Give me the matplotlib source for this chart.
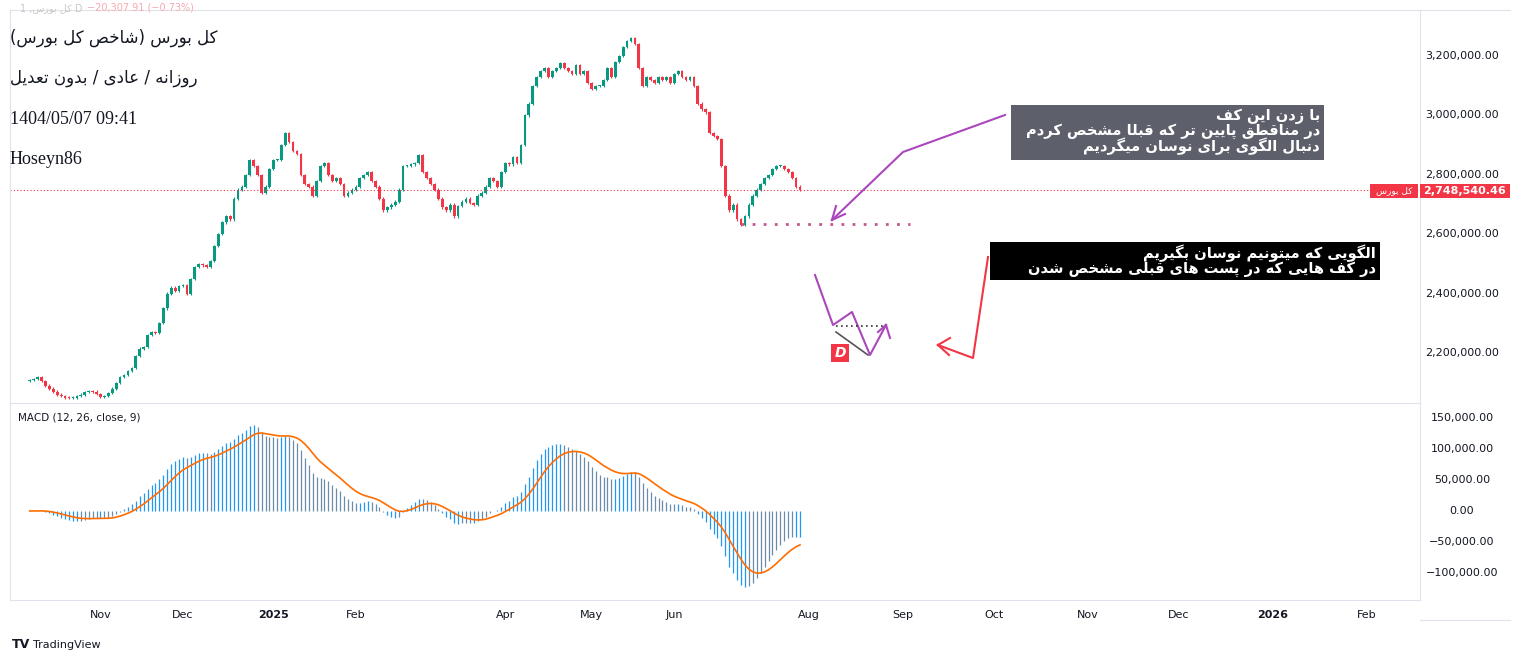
import unicodedata
import numpy as np
import pandas as pd
import matplotlib
matplotlib.use("Agg")
import matplotlib.pyplot as plt
from matplotlib.patches import Rectangle

# ---------------- data ----------------
closes_k = [2110,2112,2118,2105,2090,2080,2070,2060,2055,2050,2048,2050,2055,2060,2068,2072,2070,2062,2052,2055,
            2065,2080,2100,2120,2125,2140,2150,2190,2215,2220,2260,2270,2268,2300,2350,2400,2420,2410,2425,2430,2400,2450,2490,2500,2495,2490,2510,2560,2600,2640,2660,2650,2720,2750,2760,2800,2850,2830,
            2800,2740,2760,2820,2850,2850,2900,2940,2910,
            2880,2870,2800,2770,2760,2730,2780,2830,2840,2800,2780,2790,2770,2730,2740,2750,2760,2790,2800,2810,2780,2760,
            2720,2680,2690,2700,2710,2750,2830,2830,2835,2840,2865,2810,2790,2770,2750,
            2720,2690,2680,2700,2660,2695,2710,2720,2705,2700,2730,2740,
            2760,2790,2780,2760,2810,2840,2835,2860,2840,2900,3000,3040,
            3100,3130,3150,3160,3130,3150,3160,3175,3160,3150,3140,3170,3140,3150,3110,3090,3100,3100,3120,3160,3130,3180,
            3200,3230,3250,3260,3240,3160,3100,3130,
            3120,3110,3130,3120,3130,3110,3140,3150,3130,3120,3130,3100,3040,3020,3010,2940,2930,2920,
            2830,2730,2680,2700,2650,2630,2660,2700,2730,2750,2770,2790,2800,2820,2830,2830,2820,2810,2790,2760,2748.54046]
last_price = 2748540.46
last_date = "2025-07-29"
price_ticks = [2200000, 2400000, 2600000, 2800000, 3000000, 3200000]
macd_ticks = [-100000, -50000, 0, 50000, 100000, 150000]
month_labels = [("2024-11", "Nov"), ("2024-12", "Dec"), ("2025-01", "2025"), ("2025-02", "Feb"),
                ("2025-04", "Apr"), ("2025-05", "May"), ("2025-06", "Jun"), ("2025-08", "Aug"),
                ("2025-09", "Sep"), ("2025-10", "Oct"), ("2025-11", "Nov"), ("2025-12", "Dec"),
                ("2026-01", "2026"), ("2026-02", "Feb")]
support_level = 2636000
closed_days = ([str(d.date()) for d in pd.date_range("2025-03-20", "2025-03-27")]
               + [str(d.date()) for d in pd.date_range("2025-06-14", "2025-06-25")])

closes = np.array(closes_k) * 1000.0
n = len(closes)
opens = np.concatenate([[closes[0] - 3000], closes[:-1]])

tdays = pd.bdate_range("2024-09-01", last_date, freq="C", weekmask="Sat Sun Mon Tue Wed",
                       holidays=closed_days)
tdays = tdays[-n:]
idx = np.arange(n)
last_ts = pd.Timestamp(last_date)

PXB = 3.93
PXD = 3.03
def date_to_x(d):
    d = pd.Timestamp(d)
    if d <= last_ts:
        return int(np.searchsorted(tdays, d))
    return (n - 1) + (d - last_ts).days * PXD / PXB

# ---- simple Persian shaping for display ----
RIGHT_ONLY = set("اآأإدذرزژوؤة")
def is_ar(c):
    return "\u0600" <= c <= "\u06FF" and c.isalpha()
def form(c, f):
    try:
        return unicodedata.lookup(unicodedata.name(c) + " " + f + " FORM")
    except KeyError:
        return c
def shape(t):
    out = []
    for i, c in enumerate(t):
        if not is_ar(c):
            out.append(c); continue
        p = t[i - 1] if i > 0 else ""
        nx = t[i + 1] if i + 1 < len(t) else ""
        pj = bool(p) and is_ar(p) and p not in RIGHT_ONLY
        nj = c not in RIGHT_ONLY and bool(nx) and is_ar(nx)
        f = "MEDIAL" if pj and nj else "FINAL" if pj else "INITIAL" if nj else "ISOLATED"
        out.append(form(c, f))
    s = "".join(out)[::-1]
    return s.replace("(", "\0").replace(")", "(").replace("\0", ")")

# ---------------- figure ----------------
W, H = 1516, 663
fig = plt.figure(figsize=(W / 100, H / 100), dpi=100)
def rect(x0, y0, x1, y1):
    return [x0 / W, 1 - y1 / H, (x1 - x0) / W, (y1 - y0) / H]

x_left = (n - 1) - (800 - 10) / PXB
x_right = (n - 1) + (1420 - 800) / PXB

ax = fig.add_axes(rect(10, 10, 1420, 403))
axm = fig.add_axes(rect(10, 403, 1420, 600), sharex=ax)
py_top = 3200000 + 46 / 297 * 1e6
py_bot = 2200000 - 50 / 297 * 1e6
ax.set_ylim(py_bot, py_top)
ax.set_xlim(x_left, x_right)
axm.set_ylim(-143548, 174194)

up, dn = "#089981", "#F23645"
for i in idx:
    o, c = opens[i], closes[i]
    col = up if c >= o else dn
    hi, lo = max(o, c), min(o, c)
    ax.vlines(i, lo - 4000, hi + 4000, color=col, lw=0.8)
    ax.add_patch(Rectangle((i - 0.35, lo), 0.7, max(hi - lo, 2500), color=col, lw=0))

ax.axhline(last_price, color=dn, lw=0.8, ls=(0, (1, 2)))
ax.hlines(support_level, n - 16, n + 27, color="#C2578F", lw=2, ls=(0, (1, 3)))

s = pd.Series(closes)
macd = s.ewm(span=12, adjust=False).mean() - s.ewm(span=26, adjust=False).mean()
signal = macd.ewm(span=9, adjust=False).mean()
mv = macd.values
for i in idx:
    grow = i > 0 and abs(mv[i]) >= abs(mv[i - 1])
    col = "#2196F3" if grow else "#6A8CA8"
    axm.vlines(i, 0, mv[i], color=col, lw=0.9)
axm.plot(idx, signal.values, color="#FF6D00", lw=1.2)

for a in (ax, axm):
    a.tick_params(left=False, right=False, bottom=False, labelleft=False, labelbottom=False)
    for sp in a.spines.values():
        sp.set_color("#E0E3EB")
        sp.set_linewidth(0.8)
ax.spines["bottom"].set_visible(False)

# ---------------- overlay (pixels) ----------------
ov = fig.add_axes([0, 0, 1, 1], zorder=10)
ov.set_xlim(0, W); ov.set_ylim(H, 0); ov.axis("off")
ov.patch.set_alpha(0)

def py(p):
    return 10 + (py_top - p) / (py_top - py_bot) * 393
def my(v):
    return 403 + (174194 - v) / (174194 + 143548) * 197
def fx(i):
    return 10 + (i - x_left) * PXB

for p in price_ticks:
    ov.text(1462, py(p), f"{p:,.2f}", fontsize=8, color="#131722", ha="center", va="center")
for v in macd_ticks:
    lab = f"{v:,.2f}".replace("-", "\u2212")
    ov.text(1462, my(v), lab, fontsize=8, color="#131722", ha="center", va="center")
for ym, lab in month_labels:
    xi = date_to_x(pd.Timestamp(ym + "-01"))
    ov.text(fx(xi), 615, lab, fontsize=8, color="#131722", ha="center", va="center",
            fontweight="bold" if lab.isdigit() else "normal")
ov.plot([1420, 1510], [10, 10], color="#E0E3EB", lw=0.8)
ov.plot([1420, 1510], [620, 620], color="#E0E3EB", lw=0.8)

ov.add_patch(Rectangle((1420, 184), 90, 14, color=dn, lw=0))
ov.text(1465, 191, f"{last_price:,.2f}", fontsize=8, color="white", ha="center", va="center", fontweight="bold")
ov.add_patch(Rectangle((1370, 184), 48, 14, color=dn, lw=0))
ov.text(1394, 191, shape("کل بورس"), fontsize=6.5, color="white", ha="center", va="center")

ov.text(20, 8, "1 ," + shape("کل بورس") + " D", fontsize=7, color="#C8C8C8", va="center")
ov.text(87, 8, "\u221220,307.91 (\u22120.73%)", fontsize=7, color="#F7A8B0", va="center")
ov.text(10, 38, shape("کل بورس (شاخص کل بورس)"), fontsize=12, color="#131722", va="center")
ov.text(10, 78, shape("روزانه / عادی / بدون تعدیل"), fontsize=12, color="#131722", va="center")
ov.text(10, 120, "1404/05/07 09:41", fontsize=13, color="#131722", va="center", family="Liberation Serif")
ov.text(10, 160, "Hoseyn86", fontsize=13, color="#131722", va="center", family="Liberation Serif")
ov.text(18, 418, "MACD (12, 26, close, 9)", fontsize=7.5, color="#131722", va="center")
ov.text(12, 645, "TV", fontsize=9, color="#131722", va="center", fontweight="bold")
ov.text(33, 645, "TradingView", fontsize=8, color="#131722", va="center")

ov.add_patch(Rectangle((1011, 105), 313, 55, color="#5D606B", lw=0))
for k, t in enumerate(["با زدن این کف", "در مناقطق پایین تر که قبلا مشخص کردم", "دنبال الگوی برای نوسان میگردیم"]):
    ov.text(1320, 116 + k * 15, shape(t), fontsize=10.5, color="white", ha="right", va="center", fontweight="bold")
ov.add_patch(Rectangle((990, 242), 390, 38, color="black", lw=0))
for k, t in enumerate(["الگویی که میتونیم نوسان بگیریم", "در کف هایی که در پست های قبلی مشخص شدن"]):
    ov.text(1376, 253 + k * 16, shape(t), fontsize=10.5, color="white", ha="right", va="center", fontweight="bold")

purple = "#AB47BC"
ov.plot([1005, 903, 832], [115, 152, 220], color=purple, lw=1.5)
ov.plot([832, 845], [220, 214], color=purple, lw=1.5)
ov.plot([832, 836], [220, 206], color=purple, lw=1.5)
ov.plot([815, 833, 852, 870, 886], [275, 325, 312, 355, 325], color=purple, lw=1.5)
ov.plot([886, 878], [325, 332], color=purple, lw=1.5)
ov.plot([886, 890], [325, 338], color=purple, lw=1.5)
ov.plot([836, 885], [326, 326], color="#333333", lw=1.2, ls=(0, (1, 2)))
ov.plot([836, 868], [332, 355], color="#555555", lw=1.2)
ov.add_patch(Rectangle((831, 344), 18, 18, color="#F23645", lw=0))
ov.text(840, 353, "D", fontsize=10, color="white", ha="center", va="center", fontweight="bold", style="italic")
red = "#F23645"
ov.plot([988, 973, 938], [257, 358, 345], color=red, lw=1.5)
ov.plot([938, 950], [345, 338], color=red, lw=1.5)
ov.plot([938, 949], [345, 355], color=red, lw=1.5)

fig.savefig("out.png", dpi=100, facecolor="white")
